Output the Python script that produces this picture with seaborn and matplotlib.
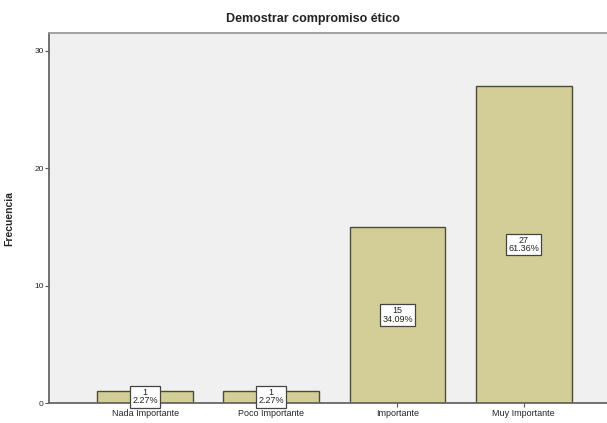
import matplotlib
matplotlib.use("Agg")
import matplotlib.pyplot as plt
import seaborn as sns
import pandas as pd

categories = ["Nada Importante", "Poco Importante", "Importante", "Muy Importante"]
counts = [1, 1, 15, 27]
percent_labels = ["2.27%", "2.27%", "34.09%", "61.36%"]
yticks = [0, 10, 20, 30]

sns.set_style("white")
plt.rcParams['font.family'] = ['Liberation Sans', 'DejaVu Sans']

df = pd.DataFrame({"cat": categories, "n": counts})

fig = plt.figure(figsize=(6.07, 4.23), dpi=100)
ax = fig.add_axes([0.081, 0.047, 0.919, 0.875])
ax.set_facecolor("#F0F0F0")
sns.barplot(data=df, x="cat", y="n", color="#D3CE97", width=0.76,
            edgecolor="#4d4b36", linewidth=1.0, saturation=1, ax=ax)

for i, (c, p) in enumerate(zip(counts, percent_labels)):
    ax.text(i, c / 2 if c > 2 else 0.55, f"{c}\n{p}", ha="center", va="center",
            fontsize=6.5, linespacing=0.9, color="#222222",
            bbox=dict(boxstyle="square,pad=0.25", fc="white", ec="#444444", lw=0.9))

ax.set_xlim(-0.76, 3.66)
ax.set_ylim(0, 31.5)
ax.set_yticks(yticks)
ax.set_yticklabels([str(t) for t in yticks], fontsize=6)
ax.set_xticks(range(len(categories)))
ax.set_xticklabels(categories, fontsize=6.5)
ax.tick_params(axis="both", which="both", length=3, width=0.8, color="#555555", pad=1,
               bottom=True, left=True)
ax.set_xlabel("")
ax.set_ylabel("Frecuencia", fontsize=7.5, fontweight="bold", labelpad=14)
ax.spines["right"].set_visible(False)
ax.spines["top"].set_color("#9a9a9a")
ax.spines["top"].set_linewidth(1.3)
for s in ["left", "bottom"]:
    ax.spines[s].set_color("#666666")
    ax.spines[s].set_linewidth(1.3)
fig.text(0.515, 0.955, "Demostrar compromiso ético", ha="center", va="center",
         fontsize=9, fontweight="bold", color="#222222")

fig.savefig("out.png", dpi=100)
